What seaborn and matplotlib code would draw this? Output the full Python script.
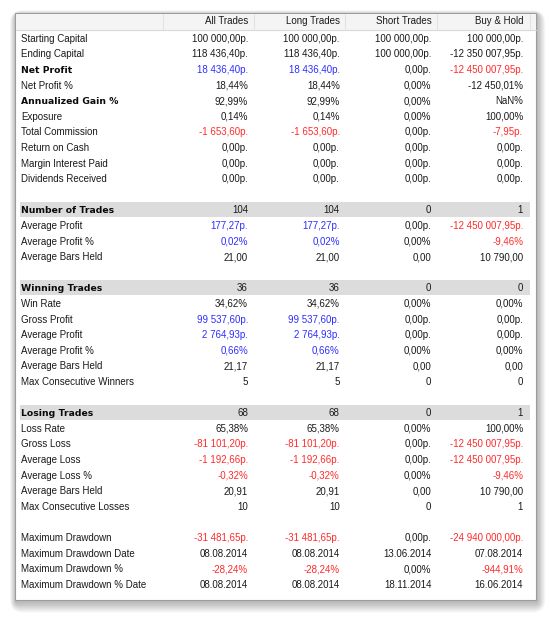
import matplotlib
matplotlib.use("Agg")
import matplotlib.pyplot as plt
from matplotlib.patches import Rectangle, FancyBboxPatch
import seaborn as sns

sns.set_theme(style="white")
plt.rcParams['font.family'] = ['Liberation Sans', 'DejaVu Sans']

# ---- table data ----
columns = ["All Trades", "Long Trades", "Short Trades", "Buy & Hold"]

labels = [
    "Starting Capital", "Ending Capital", "Net Profit", "Net Profit %",
    "Annualized Gain %", "Exposure", "Total Commission", "Return on Cash",
    "Margin Interest Paid", "Dividends Received", None,
    "Number of Trades", "Average Profit", "Average Profit %", "Average Bars Held", None,
    "Winning Trades", "Win Rate", "Gross Profit", "Average Profit", "Average Profit %",
    "Average Bars Held", "Max Consecutive Winners", None,
    "Losing Trades", "Loss Rate", "Gross Loss", "Average Loss", "Average Loss %",
    "Average Bars Held", "Max Consecutive Losses", None,
    "Maximum Drawdown", "Maximum Drawdown Date", "Maximum Drawdown %",
    "Maximum Drawdown % Date",
]

all_trades = [
    "100 000,00p.", "118 436,40p.", "18 436,40p.", "18,44%", "92,99%", "0,14%",
    "-1 653,60p.", "0,00p.", "0,00p.", "0,00p.", None,
    "104", "177,27p.", "0,02%", "21,00", None,
    "36", "34,62%", "99 537,60p.", "2 764,93p.", "0,66%", "21,17", "5", None,
    "68", "65,38%", "-81 101,20p.", "-1 192,66p.", "-0,32%", "20,91", "10", None,
    "-31 481,65p.", "08.08.2014", "-28,24%", "08.08.2014",
]
long_trades = [
    "100 000,00p.", "118 436,40p.", "18 436,40p.", "18,44%", "92,99%", "0,14%",
    "-1 653,60p.", "0,00p.", "0,00p.", "0,00p.", None,
    "104", "177,27p.", "0,02%", "21,00", None,
    "36", "34,62%", "99 537,60p.", "2 764,93p.", "0,66%", "21,17", "5", None,
    "68", "65,38%", "-81 101,20p.", "-1 192,66p.", "-0,32%", "20,91", "10", None,
    "-31 481,65p.", "08.08.2014", "-28,24%", "08.08.2014",
]
short_trades = [
    "100 000,00p.", "100 000,00p.", "0,00p.", "0,00%", "0,00%", "0,00%",
    "0,00p.", "0,00p.", "0,00p.", "0,00p.", None,
    "0", "0,00p.", "0,00%", "0,00", None,
    "0", "0,00%", "0,00p.", "0,00p.", "0,00%", "0,00", "0", None,
    "0", "0,00%", "0,00p.", "0,00p.", "0,00%", "0,00", "0", None,
    "0,00p.", "13.06.2014", "0,00%", "18.11.2014",
]
buy_hold = [
    "100 000,00p.", "-12 350 007,95p.", "-12 450 007,95p.", "-12 450,01%", "NaN%",
    "100,00%", "-7,95p.", "0,00p.", "0,00p.", "0,00p.", None,
    "1", "-12 450 007,95p.", "-9,46%", "10 790,00", None,
    "0", "0,00%", "0,00p.", "0,00p.", "0,00%", "0,00", "0", None,
    "1", "100,00%", "-12 450 007,95p.", "-12 450 007,95p.", "-9,46%", "10 790,00", "1", None,
    "-24 940 000,00p.", "07.08.2014", "-944,91%", "16.06.2014",
]

band_labels = ["Number of Trades", "Winning Trades", "Losing Trades"]
bold_labels = ["Net Profit", "Annualized Gain %"] + band_labels
signed_labels = ["Net Profit", "Total Commission", "Average Profit", "Average Profit %",
                 "Gross Profit", "Gross Loss", "Average Loss", "Average Loss %",
                 "Maximum Drawdown", "Maximum Drawdown %"]

BLUE = "#2e2eff"
RED = "#ff2a2a"
TEXT = "#1a1a1a"


def value_color(label, val):
    if label not in signed_labels:
        return TEXT
    if val.startswith("-"):
        return RED
    if val.replace("0", "").replace(",", "").replace("p.", "").replace("%", "").strip() == "":
        return TEXT
    return BLUE


W, H = 550, 617
fig = plt.figure(figsize=(W / 100, H / 100), dpi=100)
ax = fig.add_axes([0, 0, 1, 1])
ax.set_xlim(0, W)
ax.set_ylim(H, 0)
ax.axis("off")

# panel geometry
px0, py0, px1, py1 = 15, 13, 536, 600

# soft drop shadow
for k in range(12):
    g = 12 - k
    ax.add_patch(FancyBboxPatch((px0 - g * 0.5 + 1, py0 - g * 0.4 + 2),
                                (px1 - px0) + g * 1.2, (py1 - py0) + g * 1.3,
                                boxstyle="round,pad=0,rounding_size=%d" % (g + 1),
                                fc="black", ec="none", alpha=0.025, zorder=1))

ax.add_patch(Rectangle((px0, py0), px1 - px0, py1 - py0, fc="white",
                       ec="#9c9c9c", lw=0.8, zorder=2))

# header
hdr_h = 16
ax.add_patch(Rectangle((px0 + 0.5, py0 + 0.5), px1 - px0 - 1, hdr_h, fc="#f4f4f4",
                       ec="none", zorder=3))
ax.plot([px0 + 0.5, px1 - 0.5], [py0 + hdr_h + 0.5] * 2, color="#d8d8d8", lw=0.8, zorder=4)

col_sep = [163, 254, 345, 437, 530]
for xs in col_sep:
    ax.plot([xs, xs], [py0 + 1, py0 + hdr_h], color="#e2e2e2", lw=0.8, zorder=4)

col_right = [248 + 91.7 * j for j in range(len(columns))]
base = 3.6  # baseline offset from row centre
for xr, name in zip(col_right, columns):
    ax.text(xr, py0 + 7.5 + base, name, ha="right", va="baseline", fontsize=7.0,
            color=TEXT, zorder=5)

# body rows
row_top, row_h = 38.2, 15.6
label_x = 21
col_values = [all_trades, long_trades, short_trades, buy_hold]

for i, label in enumerate(labels):
    if label is None:
        continue
    y = row_top + i * row_h
    if label in band_labels:
        ax.add_patch(Rectangle((20, y - 7.6), 510, 15.2, fc="#dcdcdc", ec="none", zorder=3))
    if label in bold_labels:
        ax.text(label_x, y + base, label, ha="left", va="baseline", fontsize=6.7,
                fontweight="bold", family="DejaVu Sans", color="#0a0a0a", zorder=5)
    else:
        ax.text(label_x, y + base, label, ha="left", va="baseline", fontsize=7.0,
                color=TEXT, zorder=5)
    for xr, vals in zip(col_right, col_values):
        v = vals[i]
        ax.text(xr, y + base, v, ha="right", va="baseline", fontsize=7.0,
                color=value_color(label, v), zorder=5)

fig.savefig("out.png", dpi=100)
